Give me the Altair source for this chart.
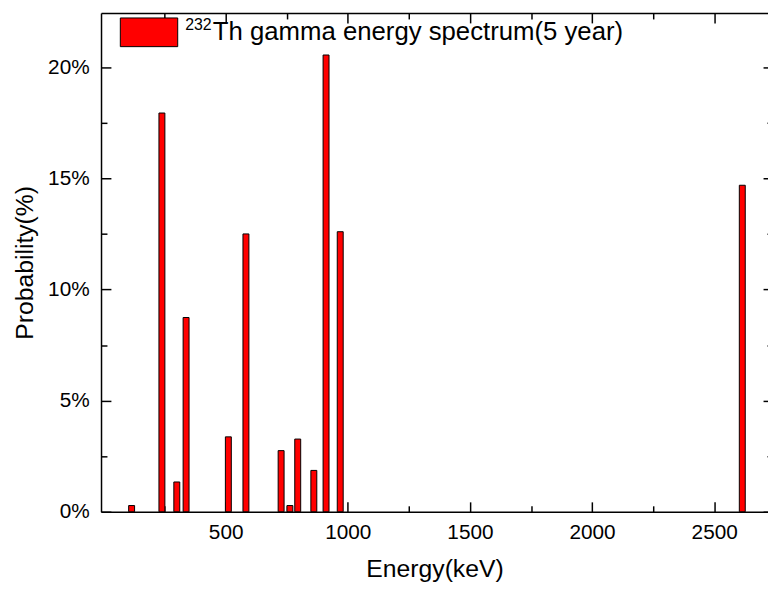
import altair as alt
import pandas as pd

# ---- data ----
energy_kev = [115, 239, 300, 338, 511, 583, 727, 763, 795, 861, 911, 969, 2615]
probability_pct = [0.28, 17.94, 1.34, 8.74, 3.37, 12.50, 2.75, 0.28, 3.27, 1.86, 20.55, 12.60, 14.69]
series_name = "Th gamma energy spectrum(5 year)"
isotope_sup = ["232"]

x_major = [500, 1000, 1500, 2000, 2500]
x_minor = [250, 750, 1250, 1750, 2250]
y_major = [0, 5, 10, 15, 20]
y_minor = [2.5, 7.5, 12.5, 17.5]

df = pd.DataFrame({
    "energy": energy_kev,
    "prob": probability_pct,
    "series": [series_name] * len(energy_kev),
})

W, H = 674, 504
FONT = "Liberation Sans"
xs = alt.Scale(domain=[10, 2700], nice=False, zero=False)
ys = alt.Scale(domain=[0, 22.44], nice=False, zero=True)

base = alt.Chart(df)

bars = base.mark_bar(size=6, stroke="black", strokeWidth=1, fillOpacity=1).encode(
    x=alt.X("energy:Q", scale=xs, axis=alt.Axis(
        orient="bottom", values=x_major, format="d", title="Energy(keV)", ticks=False, tickSize=0,
        labelPadding=10, labelFontSize=21, titleFontSize=25, titlePadding=14,
        domain=True, grid=False, labelFont=FONT, titleFont=FONT, titleFontWeight="normal",
        labelColor="black", titleColor="black", domainColor="black", domainWidth=1.5,
        labelFlush=False, labelOverlap=False)),
    y=alt.Y("prob:Q", scale=ys, axis=alt.Axis(
        orient="left", values=y_major, labelExpr="datum.value + '%'", title="Probability(%)",
        ticks=False, tickSize=0, labelPadding=12, labelFontSize=21, titleFontSize=25,
        titlePadding=10, domain=True, grid=False, labelFont=FONT, titleFont=FONT,
        titleFontWeight="normal", labelColor="black", titleColor="black",
        domainColor="black", domainWidth=1.5, labelFlush=False, labelOverlap=False)),
    color=alt.Color("series:N", scale=alt.Scale(range=["#ff0000"]), legend=alt.Legend(
        orient="none", legendX=19, legendY=-10, title=None, padding=0,
        symbolType="M-1,-0.5H1V0.5H-1Z", symbolSize=3364, symbolStrokeColor="black",
        symbolStrokeWidth=1, symbolOpacity=1, labelFontSize=26, labelFont=FONT,
        labelColor="black", labelOffset=35, labelLimit=700)),
)


def tick_layer(xorient, xvals, xsize, xdomain, yorient, yvals, ysize, ydomain):
    return base.mark_point(opacity=0).encode(
        x=alt.X("energy:Q", scale=xs, axis=alt.Axis(
            orient=xorient, offset=-H, values=xvals, labels=False, title=None,
            ticks=True, tickSize=xsize, tickWidth=1.5, tickColor="black",
            domain=xdomain, domainColor="black", domainWidth=1.5, grid=False)),
        y=alt.Y("prob:Q", scale=ys, axis=alt.Axis(
            orient=yorient, offset=-W, values=yvals, labels=False, title=None,
            ticks=True, tickSize=ysize, tickWidth=1.5, tickColor="black",
            domain=ydomain, domainColor="black", domainWidth=1.5, grid=False)),
    )


l1 = tick_layer("bottom", x_major, 10, True, "right", y_major, 10, False)
l2 = tick_layer("bottom", x_minor, 6, False, "right", y_minor, 6, False)
l3 = tick_layer("top", x_major, 10, False, "left", y_major, 5, False)
l4 = tick_layer("top", x_minor, 6, False, "left", y_minor, 1, False)

sup = alt.Chart(pd.DataFrame({"t": isotope_sup})).mark_text(
    align="left", baseline="alphabetic", fontSize=16, font=FONT, color="black"
).encode(text="t:N", x=alt.value(85), y=alt.value(17))

chart = alt.layer(bars, l1, l2, l3, l4, sup).resolve_axis(
    x="independent", y="independent"
).properties(
    width=W, height=H,
    autosize=alt.AutoSizeParams(type="none"),
    padding={"left": 94, "top": 2, "right": 0, "bottom": 75},
).configure_view(stroke=None)

chart.save("out.html", embed_options={"renderer": "svg", "actions": False})
